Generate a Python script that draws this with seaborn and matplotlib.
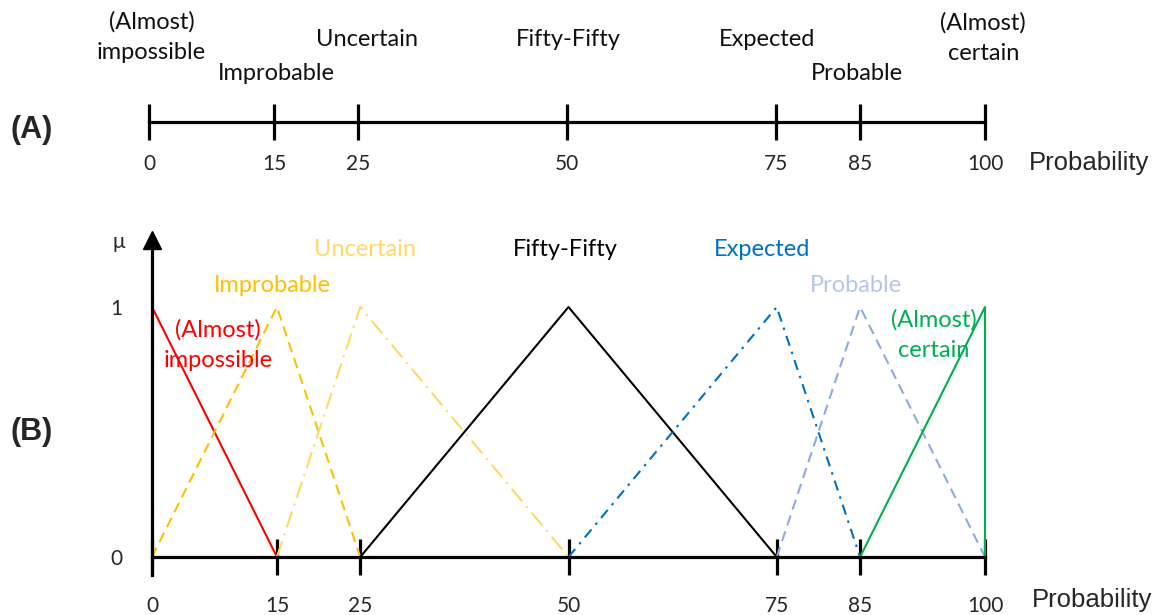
import matplotlib
matplotlib.use("Agg")
import matplotlib.pyplot as plt
import seaborn as sns

# linguistic terms and their break points on the probability scale
breaks = [0, 15, 25, 50, 75, 85, 100]
terms = ["(Almost)\nimpossible", "Improbable", "Uncertain", "Fifty-Fifty",
         "Expected", "Probable", "(Almost)\ncertain"]

# membership functions (x, mu)
impossible_x = [0, 15]
impossible_y = [1, 0]
improbable_x = [0, 15, 25]
improbable_y = [0, 1, 0]
uncertain_x = [15, 25, 50]
uncertain_y = [0, 1, 0]
fifty_x = [25, 50, 75]
fifty_y = [0, 1, 0]
expected_x = [50, 75, 85]
expected_y = [0, 1, 0]
probable_x = [75, 85, 100]
probable_y = [0, 1, 0]
certain_x = [85, 100, 100]
certain_y = [0, 1, 0]

sns.set_theme(style="white")
plt.rcParams['font.family'] = ['Lato', 'DejaVu Sans']

W, H = 1161, 615
fig = plt.figure(figsize=(W / 100, H / 100), dpi=100)

# ---------------- panel A: number line ----------------
axA = fig.add_axes([149 / W, 1 - 190 / H, 836 / W, 190 / H])
axA.set_xlim(0, 100)
axA.set_ylim(190, 0)
for s in ["top", "left", "right"]:
    axA.spines[s].set_visible(False)
axA.spines["bottom"].set_position(("data", 122))
axA.spines["bottom"].set_linewidth(2.3)
axA.spines["bottom"].set_color("black")
axA.set_xticks(breaks)
axA.set_xticklabels([str(b) for b in breaks], fontsize=15)
axA.tick_params(axis="x", direction="inout", length=26, width=2.3, pad=10,
                color="black", bottom=True)
axA.set_yticks([])
axA.patch.set_visible(False)

# term labels above the line (x in data, y in pixels)
labA_x = [0.3, 15.2, 26.1, 50.2, 73.9, 84.7, 99.8]
labA_y = [37, 74, 40, 40, 40, 74, 38]
for t, lx, ly in zip(terms, labA_x, labA_y):
    axA.text(lx, ly, t, ha="center", va="center", fontsize=17,
             linespacing=1.5, color="#111111")
fig.text(1089 / W, 1 - 163 / H, "Probability", ha="center", va="center",
         fontsize=18.5, family="Liberation Sans")
fig.text(32 / W, 1 - 130 / H, "(A)", ha="center", va="center",
         fontsize=22, fontweight="bold", family="Liberation Sans")

# ---------------- panel B: membership functions ----------------
axB = fig.add_axes([152 / W, 58 / H, 833 / W, 325 / H])
axB.set_xlim(0, 100)
axB.set_ylim(0, 1.3)
axB.patch.set_visible(False)

series = [
    (impossible_x, impossible_y, "#FF0000", "-"),
    (improbable_x, improbable_y, "#FFC000", (0, (5, 3))),
    (uncertain_x, uncertain_y, "#FFD966", (0, (8, 3, 1, 3))),
    (fifty_x, fifty_y, "black", "-"),
    (expected_x, expected_y, "#0070C0", (0, (5, 3, 1.2, 3))),
    (probable_x, probable_y, "#8FAADC", (0, (5, 3))),
    (certain_x, certain_y, "#00B050", "-"),
]
for xs, ys, c, ls in series:
    sns.lineplot(x=xs, y=ys, ax=axB, color=c, linestyle=ls, linewidth=1.5,
                 sort=False, estimator=None, clip_on=False)

for s in ["top", "right"]:
    axB.spines[s].set_visible(False)
for s in ["bottom", "left"]:
    axB.spines[s].set_linewidth(2.3)
    axB.spines[s].set_color("black")
axB.spines["left"].set_bounds(-0.07, 1.25)
axB.plot([0], [1.27], marker="^", markersize=13, color="black",
         clip_on=False)
axB.set_xticks(breaks)
axB.set_xticklabels([str(b) for b in breaks], fontsize=15)
axB.tick_params(axis="x", direction="inout", length=26, width=2.3, pad=15,
                color="black", bottom=True)
axB.set_yticks([0, 1])
axB.set_yticklabels(["0", "1"], fontsize=15)
axB.tick_params(axis="y", length=0, pad=21)

labB_colors = ["#FF0000", "#FFC000", "#FFD966", "black", "#0070C0",
               "#B4C7E7", "#00B050"]
labB_x = [7.9, 14.4, 25.6, 49.6, 73.2, 84.5, 93.9]
labB_y = [0.848, 1.088, 1.232, 1.232, 1.232, 1.084, 0.888]
for t, c, lx, ly in zip(terms, labB_colors, labB_x, labB_y):
    axB.text(lx, ly, t, ha="center", va="center", fontsize=17, color=c,
             linespacing=1.5)
axB.text(-4, 1.26, "μ", ha="center", va="center", fontsize=15)
fig.text(1092 / W, 1 - 600 / H, "Probability", ha="center", va="center",
         fontsize=18.5, family="Liberation Sans")
fig.text(32 / W, 1 - 432 / H, "(B)", ha="center", va="center",
         fontsize=22, fontweight="bold", family="Liberation Sans")

fig.savefig("out.png", dpi=100)
